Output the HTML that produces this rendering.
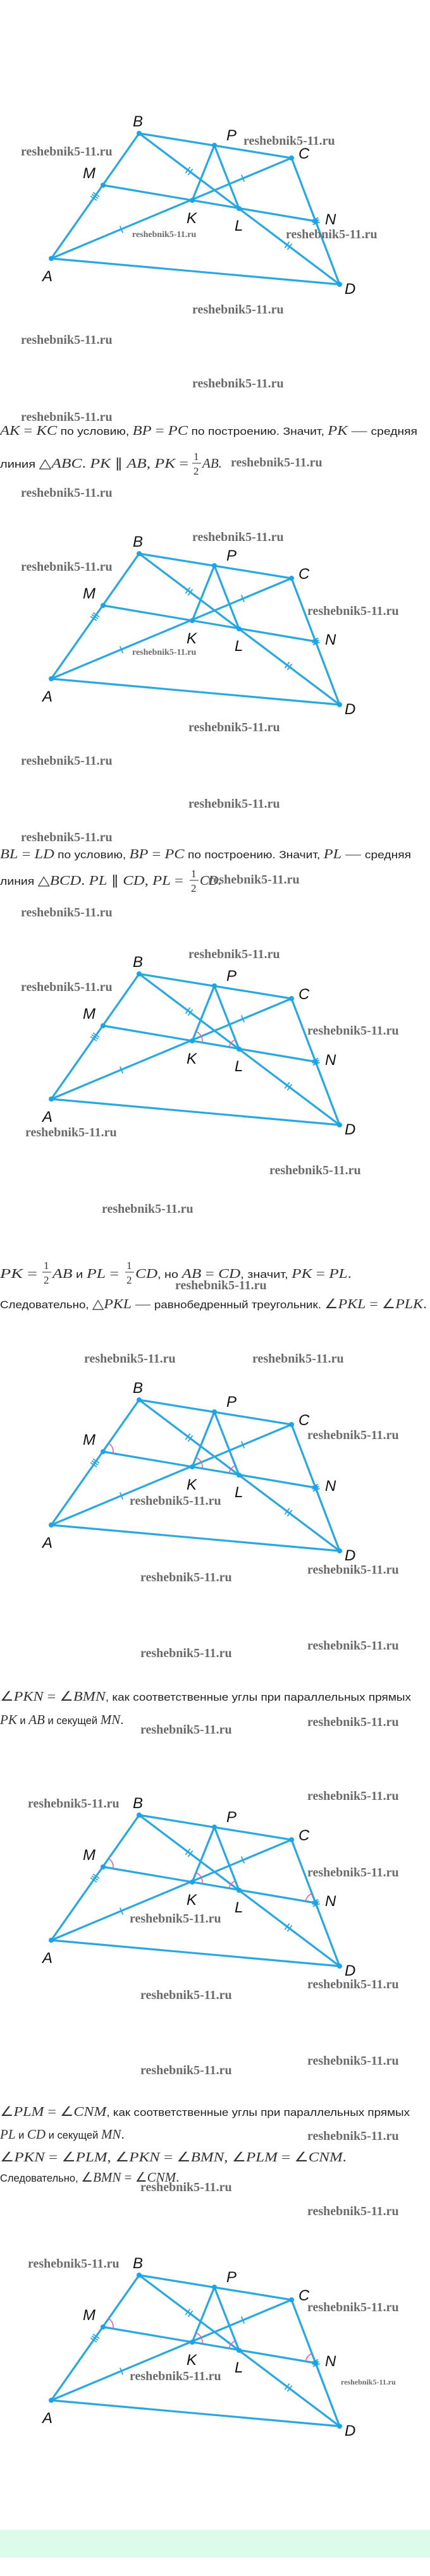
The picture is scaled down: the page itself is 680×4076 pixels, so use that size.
<!DOCTYPE html>
<html><head><meta charset="utf-8">
<style>
html,body{margin:0;padding:0;background:#fff;}
body{width:680px;height:4076px;position:relative;overflow:hidden;}
svg{position:absolute;left:0;top:0;}
.wm{font-family:"Liberation Serif",serif;font-weight:bold;fill:#6a6a6a;font-size:20px;}
.ws{font-family:"Liberation Serif",serif;font-weight:bold;fill:#6a6a6a;font-size:14px;}
.lb{font-family:"Liberation Sans",sans-serif;font-style:italic;font-size:24px;fill:#111;}
.ru{font-family:"Liberation Sans",sans-serif;font-size:16.5px;fill:#222;}
.mt{font-family:"Liberation Serif",serif;font-style:italic;font-size:21px;fill:#333;}
.mn{font-family:"Liberation Serif",serif;font-size:21px;fill:#333;}
.fr{font-family:"Liberation Serif",serif;font-size:17px;fill:#333;}
</style></head><body>
<svg width="680" height="4076" viewBox="0 0 680 4076" xmlns="http://www.w3.org/2000/svg">
<defs>
<g id="geo">
<g stroke="#29a8e0" stroke-width="3.2" fill="none" stroke-linecap="round">
<path d="M81 409L220 211L461 250L537 450Z"/>
<path d="M81 409L461 250M220 211L537 450M163 293L499 350M339 230L304 317M339 230L378 330"/>
</g>
<g stroke="#29a8e0" stroke-width="1.8">
<path d="M189.7 357.5L194.3 368.5M381.7 276.5L386.3 287.5"/>
<path d="M293.4 273.9L300.6 264.3M297.4 276.9L304.6 267.3M450.4 392.2L457.6 382.6M454.4 395.2L461.6 385.6"/>
<path d="M143.1 310.2L152.9 317M145.1 307.3L154.9 314.1M147.1 304.4L156.9 311.2"/>
<path d="M492.2 348.8L503.4 344.6M493.4 352.1L504.6 347.9M494.6 355.4L505.8 351.2"/>
</g>
<g fill="#1ea3e6">
<circle cx="220" cy="211" r="4"/><circle cx="339" cy="230" r="4"/><circle cx="461" cy="250" r="4"/>
<circle cx="163" cy="293" r="4"/><circle cx="304" cy="317" r="4"/><circle cx="378" cy="330" r="4"/>
<circle cx="499" cy="350" r="4"/><circle cx="81" cy="409" r="4"/><circle cx="537" cy="450" r="4"/>
</g>
</g>
<path id="aK" d="M310 302.2A16 16 0 0 1 319.8 319.8"/>
<path id="aL" d="M362.2 327.2A16 16 0 0 1 372.3 315.1"/>
<path id="aM" d="M172.2 279.9A16 16 0 0 1 178.8 295.7"/>
<path id="aN" d="M483.2 347.3A16 16 0 0 1 493.3 335.1"/>
</defs>

<g transform="translate(0,0)">
<use href="#geo"/>
<text class="lb" x="210" y="200">B</text><text class="lb" x="358" y="222">P</text><text class="lb" x="472" y="251">C</text>
<text class="lb" x="131" y="282">M</text><text class="lb" x="295" y="353">K</text><text class="lb" x="371" y="365">L</text>
<text class="lb" x="514" y="355">N</text><text class="lb" x="67" y="445">A</text><text class="lb" x="545" y="465">D</text>
</g>
<g transform="translate(0,665)">
<use href="#geo"/>
<text class="lb" x="210" y="200">B</text><text class="lb" x="358" y="222">P</text><text class="lb" x="472" y="251">C</text>
<text class="lb" x="131" y="282">M</text><text class="lb" x="295" y="353">K</text><text class="lb" x="371" y="365">L</text>
<text class="lb" x="514" y="355">N</text><text class="lb" x="67" y="445">A</text><text class="lb" x="545" y="465">D</text>
</g>
<g transform="translate(0,1330)">
<use href="#geo"/>
<g stroke="#ee5aa8" stroke-width="1.6" fill="none"><use href="#aK"/><use href="#aL"/></g>
<text class="lb" x="210" y="200">B</text><text class="lb" x="358" y="222">P</text><text class="lb" x="472" y="251">C</text>
<text class="lb" x="131" y="282">M</text><text class="lb" x="295" y="353">K</text><text class="lb" x="371" y="365">L</text>
<text class="lb" x="514" y="355">N</text><text class="lb" x="67" y="445">A</text><text class="lb" x="545" y="465">D</text>
</g>
<g transform="translate(0,2004)">
<use href="#geo"/>
<g stroke="#ee5aa8" stroke-width="1.6" fill="none"><use href="#aK"/><use href="#aL"/><use href="#aM"/></g>
<text class="lb" x="210" y="200">B</text><text class="lb" x="358" y="222">P</text><text class="lb" x="472" y="251">C</text>
<text class="lb" x="131" y="282">M</text><text class="lb" x="295" y="353">K</text><text class="lb" x="371" y="365">L</text>
<text class="lb" x="514" y="355">N</text><text class="lb" x="67" y="445">A</text><text class="lb" x="545" y="465">D</text>
</g>
<g transform="translate(0,2661)">
<use href="#geo"/>
<g stroke="#ee5aa8" stroke-width="1.6" fill="none"><use href="#aK"/><use href="#aL"/><use href="#aM"/><use href="#aN"/></g>
<text class="lb" x="210" y="200">B</text><text class="lb" x="358" y="222">P</text><text class="lb" x="472" y="251">C</text>
<text class="lb" x="131" y="282">M</text><text class="lb" x="295" y="353">K</text><text class="lb" x="371" y="365">L</text>
<text class="lb" x="514" y="355">N</text><text class="lb" x="67" y="445">A</text><text class="lb" x="545" y="465">D</text>
</g>
<g transform="translate(0,3389)">
<use href="#geo"/>
<g stroke="#ee5aa8" stroke-width="1.6" fill="none"><use href="#aK"/><use href="#aL"/><use href="#aM"/><use href="#aN"/></g>
<text class="lb" x="210" y="200">B</text><text class="lb" x="358" y="222">P</text><text class="lb" x="472" y="251">C</text>
<text class="lb" x="131" y="282">M</text><text class="lb" x="295" y="353">K</text><text class="lb" x="371" y="365">L</text>
<text class="lb" x="514" y="355">N</text><text class="lb" x="67" y="445">A</text><text class="lb" x="545" y="465">D</text>
</g>

<!-- Text block 1 -->
<text y="688" textLength="660" lengthAdjust="spacingAndGlyphs"><tspan class="mt" x="0">AK</tspan><tspan class="mn"> = </tspan><tspan class="mt">KC</tspan><tspan class="ru"> по условию, </tspan><tspan class="mt">BP</tspan><tspan class="mn"> = </tspan><tspan class="mt">PC</tspan><tspan class="ru"> по построению. Значит, </tspan><tspan class="mt">PK</tspan><tspan class="mn"> — </tspan><tspan class="ru">средняя</tspan></text>
<text y="740" textLength="298" lengthAdjust="spacingAndGlyphs"><tspan class="ru" x="0">линия </tspan><tspan class="mn">△</tspan><tspan class="mt">ABC</tspan><tspan class="mn">. </tspan><tspan class="mt">PK</tspan><tspan class="mn"> ∥ </tspan><tspan class="mt">AB</tspan><tspan class="mn">, </tspan><tspan class="mt">PK</tspan><tspan class="mn"> =</tspan></text>
<text class="fr" x="306" y="728">1</text><line x1="304" y1="733" x2="318" y2="733" stroke="#333" stroke-width="1"/><text class="fr" x="306" y="751">2</text>
<text class="mt" x="320" y="740">AB.</text>

<!-- Text block 2 -->
<text y="1358" textLength="650" lengthAdjust="spacingAndGlyphs"><tspan class="mt" x="0">BL</tspan><tspan class="mn"> = </tspan><tspan class="mt">LD</tspan><tspan class="ru"> по условию, </tspan><tspan class="mt">BP</tspan><tspan class="mn"> = </tspan><tspan class="mt">PC</tspan><tspan class="ru"> по построению. Значит, </tspan><tspan class="mt">PL</tspan><tspan class="mn"> — </tspan><tspan class="ru">средняя</tspan></text>
<text y="1400" textLength="290" lengthAdjust="spacingAndGlyphs"><tspan class="ru" x="0">линия </tspan><tspan class="mn">△</tspan><tspan class="mt">BCD</tspan><tspan class="mn">. </tspan><tspan class="mt">PL</tspan><tspan class="mn"> ∥ </tspan><tspan class="mt">CD</tspan><tspan class="mn">, </tspan><tspan class="mt">PL</tspan><tspan class="mn"> =</tspan></text>
<text class="fr" x="302" y="1388">1</text><line x1="300" y1="1393" x2="314" y2="1393" stroke="#333" stroke-width="1"/><text class="fr" x="302" y="1411">2</text>
<text class="mt" x="316" y="1400">CD.</text>

<!-- Text block 3 -->
<text y="2022" textLength="59" lengthAdjust="spacingAndGlyphs"><tspan class="mt" x="0">PK</tspan><tspan class="mn"> =</tspan></text>
<text class="fr" x="69" y="2008">1</text><line x1="67" y1="2013" x2="81" y2="2013" stroke="#333" stroke-width="1"/><text class="fr" x="69" y="2031">2</text>
<text y="2022" textLength="105" lengthAdjust="spacingAndGlyphs"><tspan class="mt" x="83">AB</tspan><tspan class="ru"> и </tspan><tspan class="mt">PL</tspan><tspan class="mn"> =</tspan></text>
<text class="fr" x="200" y="2008">1</text><line x1="198" y1="2013" x2="212" y2="2013" stroke="#333" stroke-width="1"/><text class="fr" x="200" y="2031">2</text>
<text y="2022" textLength="342" lengthAdjust="spacingAndGlyphs"><tspan class="mt" x="214">CD</tspan><tspan class="ru">, но </tspan><tspan class="mt">AB</tspan><tspan class="mn"> = </tspan><tspan class="mt">CD</tspan><tspan class="ru">, значит, </tspan><tspan class="mt">PK</tspan><tspan class="mn"> = </tspan><tspan class="mt">PL</tspan><tspan class="mn">.</tspan></text>
<text y="2070" textLength="675" lengthAdjust="spacingAndGlyphs"><tspan class="ru" x="0">Следовательно, </tspan><tspan class="mn">△</tspan><tspan class="mt">PKL</tspan><tspan class="mn"> — </tspan><tspan class="ru">равнобедренный треугольник. </tspan><tspan class="mn">∠</tspan><tspan class="mt">PKL</tspan><tspan class="mn"> = ∠</tspan><tspan class="mt">PLK</tspan><tspan class="mn">.</tspan></text>

<!-- Text block 4 -->
<text y="2691" textLength="650" lengthAdjust="spacingAndGlyphs"><tspan class="mn" x="0">∠</tspan><tspan class="mt">PKN</tspan><tspan class="mn"> = ∠</tspan><tspan class="mt">BMN</tspan><tspan class="ru">, как соответственные углы при параллельных прямых</tspan></text>
<text y="2728"><tspan class="mt" x="0">PK</tspan><tspan class="ru"> и </tspan><tspan class="mt">AB</tspan><tspan class="ru"> и секущей </tspan><tspan class="mt">MN</tspan><tspan class="mn">.</tspan></text>

<!-- Text block 5 -->
<text y="3348" textLength="648" lengthAdjust="spacingAndGlyphs"><tspan class="mn" x="0">∠</tspan><tspan class="mt">PLM</tspan><tspan class="mn"> = ∠</tspan><tspan class="mt">CNM</tspan><tspan class="ru">, как соответственные углы при параллельных прямых</tspan></text>
<text y="3384"><tspan class="mt" x="0">PL</tspan><tspan class="ru"> и </tspan><tspan class="mt">CD</tspan><tspan class="ru"> и секущей </tspan><tspan class="mt">MN</tspan><tspan class="mn">.</tspan></text>
<text y="3420" textLength="548" lengthAdjust="spacingAndGlyphs"><tspan class="mn" x="0">∠</tspan><tspan class="mt">PKN</tspan><tspan class="mn"> = ∠</tspan><tspan class="mt">PLM</tspan><tspan class="mn">, ∠</tspan><tspan class="mt">PKN</tspan><tspan class="mn"> = ∠</tspan><tspan class="mt">BMN</tspan><tspan class="mn">, ∠</tspan><tspan class="mt">PLM</tspan><tspan class="mn"> = ∠</tspan><tspan class="mt">CNM</tspan><tspan class="mn">.</tspan></text>
<text y="3452"><tspan class="ru" x="0">Следовательно, </tspan><tspan class="mn">∠</tspan><tspan class="mt">BMN</tspan><tspan class="mn"> = ∠</tspan><tspan class="mt">CNM</tspan><tspan class="mn">.</tspan></text>

<g class="wm">
<text x="385" y="229">reshebnik5-11.ru</text><text x="33" y="246">reshebnik5-11.ru</text>
<text x="452" y="377">reshebnik5-11.ru</text><text x="304" y="496">reshebnik5-11.ru</text>
<text x="33" y="544">reshebnik5-11.ru</text><text x="304" y="613">reshebnik5-11.ru</text>
<text x="33" y="666">reshebnik5-11.ru</text><text x="365" y="738">reshebnik5-11.ru</text>
<text x="33" y="786">reshebnik5-11.ru</text><text x="304" y="856">reshebnik5-11.ru</text>
<text x="33" y="903">reshebnik5-11.ru</text>
<text x="486" y="973">reshebnik5-11.ru</text><text x="298" y="1157">reshebnik5-11.ru</text>
<text x="33" y="1210">reshebnik5-11.ru</text><text x="298" y="1278">reshebnik5-11.ru</text>
<text x="33" y="1331">reshebnik5-11.ru</text><text x="329" y="1398">reshebnik5-11.ru</text>
<text x="33" y="1450">reshebnik5-11.ru</text><text x="298" y="1516">reshebnik5-11.ru</text>
<text x="33" y="1568">reshebnik5-11.ru</text><text x="486" y="1637">reshebnik5-11.ru</text>
<text x="40" y="1798">reshebnik5-11.ru</text><text x="426" y="1858">reshebnik5-11.ru</text>
<text x="161" y="1919">reshebnik5-11.ru</text><text x="277" y="2040">reshebnik5-11.ru</text>
<text x="133" y="2156">reshebnik5-11.ru</text><text x="399" y="2156">reshebnik5-11.ru</text>
<text x="486" y="2277">reshebnik5-11.ru</text><text x="205" y="2381">reshebnik5-11.ru</text>
<text x="486" y="2490">reshebnik5-11.ru</text><text x="222" y="2502">reshebnik5-11.ru</text>
<text x="486" y="2610">reshebnik5-11.ru</text><text x="222" y="2622">reshebnik5-11.ru</text>
<text x="486" y="2731">reshebnik5-11.ru</text><text x="222" y="2743">reshebnik5-11.ru</text>
<text x="44" y="2860">reshebnik5-11.ru</text><text x="486" y="2848">reshebnik5-11.ru</text>
<text x="486" y="2969">reshebnik5-11.ru</text><text x="205" y="3042">reshebnik5-11.ru</text>
<text x="486" y="3146">reshebnik5-11.ru</text><text x="222" y="3163">reshebnik5-11.ru</text>
<text x="486" y="3267">reshebnik5-11.ru</text><text x="222" y="3282">reshebnik5-11.ru</text>
<text x="486" y="3386">reshebnik5-11.ru</text>
<text x="222" y="3467">reshebnik5-11.ru</text><text x="486" y="3505">reshebnik5-11.ru</text>
<text x="44" y="3588">reshebnik5-11.ru</text><text x="486" y="3657">reshebnik5-11.ru</text>
<text x="205" y="3766">reshebnik5-11.ru</text>
</g>
<g class="ws">
<text x="209" y="375">reshebnik5-11.ru</text>
<text x="209" y="1036">reshebnik5-11.ru</text>
<text x="539" y="3773" style="font-size:12px">reshebnik5-11.ru</text>
</g>

<rect x="0" y="4003" width="680" height="44" fill="#dcfbea"/>
</svg>
</body></html>
